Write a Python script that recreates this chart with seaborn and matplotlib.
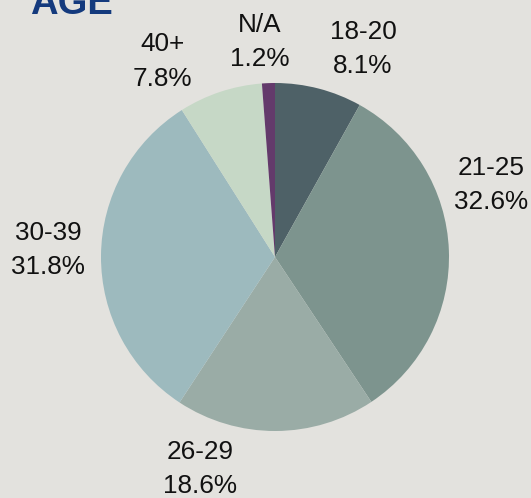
import matplotlib
matplotlib.use("Agg")
import matplotlib.pyplot as plt
import seaborn as sns
import numpy as np

# data
age_groups = ["18-20", "21-25", "26-29", "30-39", "40+", "N/A"]
shares = [8.1, 32.6, 18.6, 31.8, 7.8, 1.2]
slice_colors = ["#4e6167", "#7d948e", "#9aaca6", "#9dbabe", "#c6d8c6", "#633a6b"]

# label spots (data units, pie radius = 1)
label_pos = [(0.506, 1.195), (1.241, 0.414), (-0.431, -1.218),
             (-1.305, 0.040), (-0.649, 1.124), (-0.086, 1.236)]

bg = "#e3e2de"
sns.set_theme(style="white")
plt.rcParams["font.family"] = ["Liberation Sans", "DejaVu Sans"]

fig = plt.figure(figsize=(5.31, 4.98), dpi=100, facecolor=bg)
ax = fig.add_axes([0, 0, 1, 1])
ax.set_facecolor(bg)

ax.pie(shares, colors=slice_colors, startangle=90, counterclock=False,
       radius=1.0, wedgeprops=dict(linewidth=0))

for name, val, (lx, ly) in zip(age_groups, shares, label_pos):
    ax.text(lx, ly, f"{name}\n{val:.1f}%", ha="center", va="center",
            fontsize=18.8, color="#111111", linespacing=1.57)

# centre at (275, 257) px, radius 174 px
r = 174.0
ax.set_xlim(-275 / r, (531 - 275) / r)
ax.set_ylim(-(498 - 257) / r, 257 / r)
ax.set_aspect("auto")
ax.axis("off")

fig.text(30 / 531, 1 - 14 / 498, "AGE", ha="left", va="baseline",
         fontsize=27.5, fontweight="bold", color="#143a7d")

fig.savefig("out.png", dpi=100, facecolor=bg)
